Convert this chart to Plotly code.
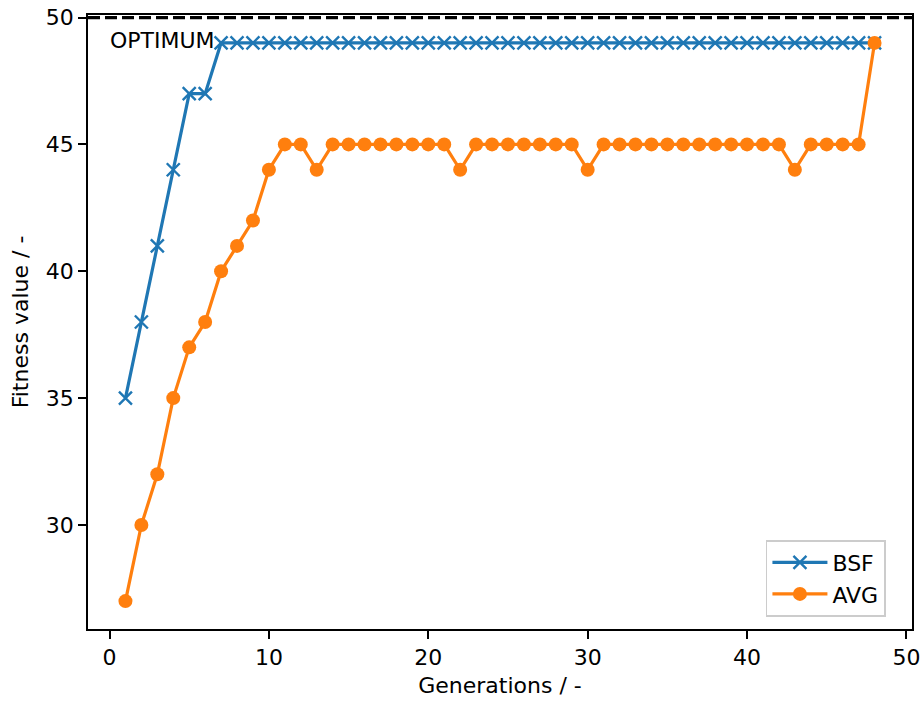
import plotly.graph_objects as go

generations = list(range(1, 49))
bsf = [35, 38, 41, 44, 47, 47] + [49] * 42
avg = [27, 30, 32, 35, 37, 38, 40, 41, 42, 44,
       45, 45, 44, 45, 45, 45, 45, 45, 45, 45,
       45, 44, 45, 45, 45, 45, 45, 45, 45, 44,
       45, 45, 45, 45, 45, 45, 45, 45, 45, 45,
       45, 45, 44, 45, 45, 45, 45, 49]
optimum = 50
x_ticks = [0, 10, 20, 30, 40, 50]
y_ticks = [30, 35, 40, 45, 50]

FONT = "DejaVu Sans"
FS = 22
fig = go.Figure()
fig.add_trace(go.Scatter(
    x=generations, y=bsf, mode="lines+markers", name="BSF",
    line=dict(color="#1f77b4", width=3.2),
    marker=dict(symbol="x-thin", size=13, line=dict(color="#1f77b4", width=2.4)),
))
fig.add_trace(go.Scatter(
    x=generations, y=avg, mode="lines+markers", name="AVG",
    line=dict(color="#ff7f0e", width=3.2),
    marker=dict(symbol="circle", size=14, color="#ff7f0e"),
))
fig.add_shape(type="line", xref="paper", yref="y", x0=0, x1=1, y0=optimum, y1=optimum,
              line=dict(color="black", width=3.2, dash="12px,5px"))
fig.add_annotation(x=0, y=49.1, xref="x", yref="y", text="OPTIMUM", showarrow=False,
                   xanchor="left", yanchor="middle", xshift=-2,
                   font=dict(family=FONT, size=FS, color="black"))

fig.update_layout(
    width=920, height=702,
    margin=dict(l=88, r=8, t=15, b=73),
    paper_bgcolor="white", plot_bgcolor="white",
    font=dict(family=FONT, size=FS, color="black"),
    showlegend=True,
    legend=dict(x=0.968, y=0.02, xanchor="right", yanchor="bottom",
                bgcolor="rgba(255,255,255,0.9)", bordercolor="#cccccc", borderwidth=1.8,
                font=dict(family=FONT, size=FS), itemwidth=55, tracegroupgap=2),
)
fig.update_xaxes(
    range=[-1.35, 50.35], tickvals=x_ticks, ticktext=[str(v) for v in x_ticks],
    showgrid=False, zeroline=False, showline=True, linecolor="black", linewidth=1.8,
    mirror=True, ticks="outside", ticklen=8, tickwidth=1.8, tickcolor="black",
    tickfont=dict(family=FONT, size=FS), automargin=False, ticklabeloverflow="allow",
    title=dict(text="Generations / -", font=dict(family=FONT, size=FS), standoff=8),
)
fig.update_yaxes(
    range=[25.9, 50.1], tickvals=y_ticks, ticktext=[str(v) for v in y_ticks],
    showgrid=False, zeroline=False, showline=True, linecolor="black", linewidth=1.8,
    mirror=True, ticks="outside", ticklen=8, tickwidth=1.8, tickcolor="black",
    tickfont=dict(family=FONT, size=FS), automargin=False, ticklabeloverflow="allow",
    title=dict(text="Fitness value / -", font=dict(family=FONT, size=FS), standoff=11),
)
# remove the default 8px page margin so the figure fills the window exactly
fig.write_html("out.html", config={"displayModeBar": False},
               post_script="document.body.style.margin='0';")
